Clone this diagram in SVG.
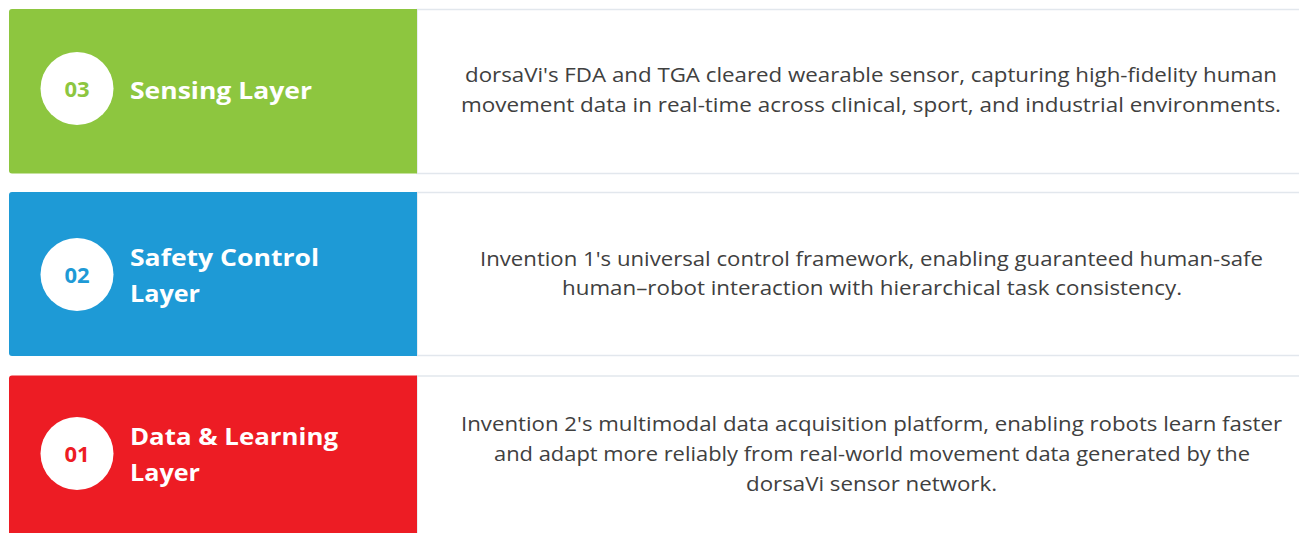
<svg xmlns="http://www.w3.org/2000/svg" width="1299" height="533" viewBox="0 0 1299 533">
<style>
.panel{fill:#ffffff;stroke:#e2e7ed;stroke-width:1.5}
.circ{fill:#ffffff}
.num{font-family:"Open Sans","Liberation Sans",sans-serif;font-weight:700;font-size:22px;text-anchor:middle}
.title{font-family:"Open Sans","Liberation Sans",sans-serif;font-weight:700;font-size:24px;fill:#ffffff}
.desc{font-family:"Open Sans","Liberation Sans",sans-serif;font-size:20px;fill:#404040;text-anchor:middle}
</style>
<rect x="0" y="0" width="1299" height="533" fill="#ffffff"/>
<g id="layer3">
<rect class="panel" x="417" y="9.5" width="900" height="164"/>
<path d="M12,9 H417 V173.5 H12 Q9,173.5 9,170.5 V12 Q9,9 12,9 Z" fill="#8DC63F"/>
<circle class="circ" cx="77" cy="88.5" r="36.5"/>
<text class="num" x="77" y="96.5" fill="#8DC63F">03</text>
<text class="title" x="130" y="99" textLength="182" lengthAdjust="spacingAndGlyphs">Sensing Layer</text>
<text class="desc" x="871" y="82" textLength="812" lengthAdjust="spacingAndGlyphs">dorsaVi's FDA and TGA cleared wearable sensor, capturing high-fidelity human</text>
<text class="desc" x="871" y="111.5" textLength="820" lengthAdjust="spacingAndGlyphs">movement data in real-time across clinical, sport, and industrial environments.</text>
</g>
<g id="layer2">
<rect class="panel" x="417" y="192.5" width="900" height="163"/>
<path d="M12,192 H417 V356 H12 Q9,356 9,353 V195 Q9,192 12,192 Z" fill="#1E9AD6"/>
<circle class="circ" cx="77" cy="274.5" r="36.5"/>
<text class="num" x="77" y="282.5" fill="#1E9AD6">02</text>
<text class="title" x="130" y="266" textLength="189" lengthAdjust="spacingAndGlyphs">Safety Control</text>
<text class="title" x="130" y="301.5" textLength="70" lengthAdjust="spacingAndGlyphs">Layer</text>
<text class="desc" x="871.5" y="265.5" textLength="783" lengthAdjust="spacingAndGlyphs">Invention 1's universal control framework, enabling guaranteed human-safe</text>
<text class="desc" x="872" y="295" textLength="620" lengthAdjust="spacingAndGlyphs">human–robot interaction with hierarchical task consistency.</text>
</g>
<g id="layer1">
<rect class="panel" x="417" y="376" width="900" height="180"/>
<path d="M12,375.5 H417 V540 H9 V378.5 Q9,375.5 12,375.5 Z" fill="#ED1C24"/>
<circle class="circ" cx="77" cy="453.5" r="36.5"/>
<text class="num" x="77" y="461.5" fill="#ED1C24">01</text>
<text class="title" x="130" y="445" textLength="208" lengthAdjust="spacingAndGlyphs">Data &amp; Learning</text>
<text class="title" x="130" y="480.5" textLength="70" lengthAdjust="spacingAndGlyphs">Layer</text>
<text class="desc" x="871.5" y="431" textLength="821" lengthAdjust="spacingAndGlyphs">Invention 2's multimodal data acquisition platform, enabling robots learn faster</text>
<text class="desc" x="872" y="461" textLength="756" lengthAdjust="spacingAndGlyphs">and adapt more reliably from real-world movement data generated by the</text>
<text class="desc" x="871.5" y="491" textLength="251" lengthAdjust="spacingAndGlyphs">dorsaVi sensor network.</text>
</g>
<g id="connectors"></g>
</svg>
